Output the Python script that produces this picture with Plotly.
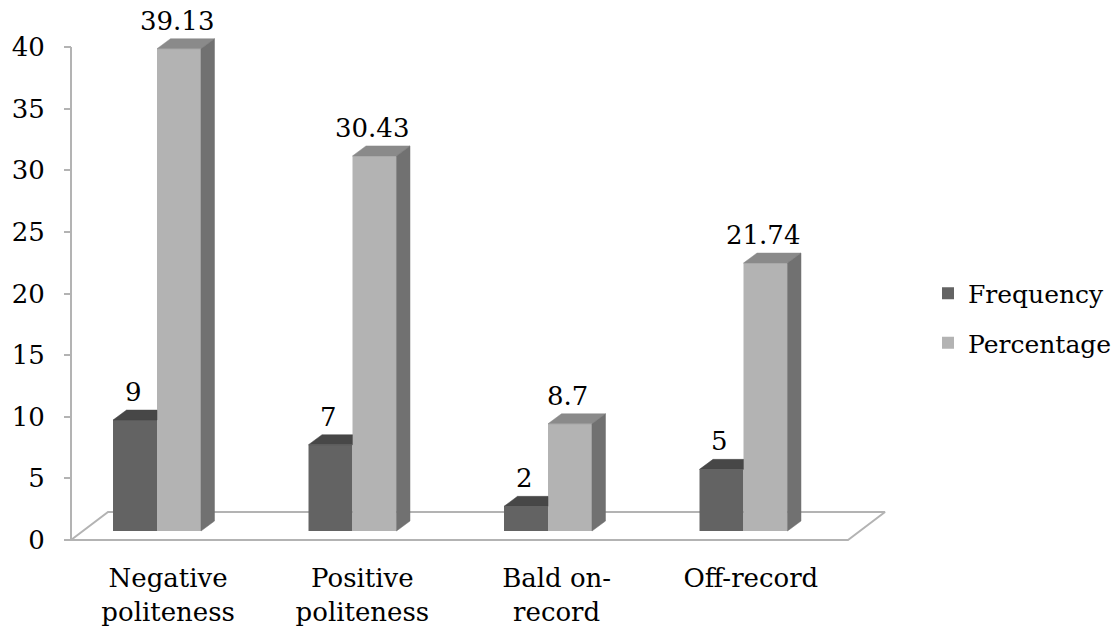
import plotly.graph_objects as go

# ---- data -------------------------------------------------------------
categories = ["Negative<br>politeness", "Positive<br>politeness",
              "Bald on-<br>record", "Off-record"]
frequency = [9, 7, 2, 5]
percentage = [39.13, 30.43, 8.7, 21.74]
y_ticks = [0, 5, 10, 15, 20, 25, 30, 35, 40]

# ---- layout geometry (pixels) -----------------------------------------
W, H = 1120, 635
AX_X, AX_Y = 71, 540                  # pixel position of the axes corner
L, R, T, B = 61, 895, 28, 546         # plot area edges
CAT_PX = 194.25                       # width of one category on the front plane
UNIT_PX = 12.325                      # pixels per y unit
BAR_CAT_PX = 195.5                    # category spacing where the bars stand
BAR_X0_PX = 157.0                     # centre of first bar pair
BAR_BASE_PX = 531.0                   # floor level of the bars
BAR_W = 0.225                         # bar width in category units
DEPTH_X_PX, DEPTH_Y_PX = 13.5, 10.0   # bar depth (oblique projection)
FLOOR_X_PX, FLOOR_Y_PX = 37.0, 28.0   # floor depth

FONT = "DejaVu Serif"
FS = 26
GRID = "#b3b3b3"

FREQ = dict(front="#636363", top="#474747")
PERC = dict(front="#b3b3b3", top="#8a8a8a", side="#717171")

n = len(categories)
# main (front) axes: category index on x, value on y
x_rng = [-0.5 - (AX_X - L) / CAT_PX, -0.5 + (R - AX_X) / CAT_PX]
y_rng = [-(B - AX_Y) / UNIT_PX, (AX_Y - T) / UNIT_PX]
# overlay axes the columns stand on
x2_r0 = -(BAR_X0_PX - L) / BAR_CAT_PX
x2_rng = [x2_r0, x2_r0 + (R - L) / BAR_CAT_PX]
y2_r0 = -(B - BAR_BASE_PX) / UNIT_PX
y2_rng = [y2_r0, y2_r0 + (B - T) / UNIT_PX]

ddx = DEPTH_X_PX / BAR_CAT_PX
ddy = DEPTH_Y_PX / UNIT_PX
fdx = FLOOR_X_PX / CAT_PX
fdy = FLOOR_Y_PX / UNIT_PX

fig = go.Figure()

# value axis line + floor outline, on the front axes
x0, x1 = -0.5, n - 0.5
fig.add_trace(go.Scatter(
    x=[x0, x0, x1, x1 + fdx, x0 + fdx, x0],
    y=[y_ticks[-1], 0, 0, fdy, fdy, 0],
    mode="lines", line=dict(color=GRID, width=2),
    hoverinfo="skip", showlegend=False))

# front faces of the columns
idx = list(range(n))
fig.add_trace(go.Bar(x=idx, y=frequency, name="Frequency", legendgroup="freq",
                     width=BAR_W, offset=-BAR_W,
                     marker=dict(color=FREQ["front"], line=dict(width=0)),
                     xaxis="x2", yaxis="y2"))
fig.add_trace(go.Bar(x=idx, y=percentage, name="Percentage", legendgroup="perc",
                     width=BAR_W, offset=0,
                     marker=dict(color=PERC["front"], line=dict(width=0)),
                     xaxis="x2", yaxis="y2"))


def poly(xs, ys, color):
    fig.add_trace(go.Scatter(x=xs + [xs[0]], y=ys + [ys[0]], mode="lines",
                             fill="toself", fillcolor=color,
                             line=dict(color=color, width=0.5),
                             hoverinfo="skip", showlegend=False,
                             xaxis="x2", yaxis="y2"))


# top and side faces
for i in idx:
    f, p = frequency[i], percentage[i]
    xl, xm, xr = i - BAR_W, i, i + BAR_W
    # frequency top (its right part is hidden behind the percentage column)
    poly([xl, xm, xm, xl + ddx], [f, f, f + ddy, f + ddy], FREQ["top"])
    # percentage top
    poly([xm, xr, xr + ddx, xm + ddx], [p, p, p + ddy, p + ddy], PERC["top"])
    # percentage side
    poly([xr, xr + ddx, xr + ddx, xr], [0, ddy, p + ddy, p], PERC["side"])

# value labels
annotations = []
for i in idx:
    for v, off in ((frequency[i], -BAR_W / 2), (percentage[i], BAR_W / 2)):
        annotations.append(dict(x=i + off, y=v, xref="x2", yref="y2",
                                text=f"{v:g}", showarrow=False,
                                yanchor="bottom", yshift=11, xshift=-2,
                                font=dict(family=FONT, size=FS, color="black")))

fig.update_layout(
    width=W, height=H, autosize=False,
    margin=dict(l=L, r=W - R, t=T, b=H - B, pad=0, autoexpand=False),
    paper_bgcolor="white", plot_bgcolor="white",
    font=dict(family=FONT, size=FS, color="black"),
    barmode="overlay",
    showlegend=True,
    legend=dict(x=(928 - L) / (R - L), y=(B - 318) / (B - T),
                xanchor="left", yanchor="middle", traceorder="grouped",
                font=dict(family=FONT, size=25, color="black"),
                tracegroupgap=14, bgcolor="rgba(0,0,0,0)"),
    xaxis=dict(visible=True, tickmode="array", tickvals=idx, ticktext=categories,
               range=x_rng, ticks="", showline=False, showgrid=False,
               zeroline=False, anchor="free", position=(B - AX_Y) / (B - T),
               ticklabelstandoff=20, automargin=False,
               tickfont=dict(family=FONT, size=FS, color="black")),
    xaxis3=dict(overlaying="x", tickmode="array",
                tickvals=[i - 0.5 for i in range(n + 1)], showticklabels=False,
                range=x_rng, ticks="outside", ticklen=8, tickwidth=1.5,
                tickcolor=GRID, showline=False, showgrid=False, zeroline=False,
                anchor="free", position=(B - AX_Y) / (B - T), automargin=False),
    yaxis=dict(visible=True, range=y_rng, tickvals=y_ticks, ticks="outside",
               ticklen=7, tickwidth=1.5, tickcolor=GRID, showline=False,
               showgrid=False, zeroline=False, ticklabelstandoff=14,
               anchor="free", position=(AX_X - L) / (R - L), automargin=False,
               tickfont=dict(family=FONT, size=FS, color="black")),
    xaxis2=dict(overlaying="x", range=x2_rng, visible=False),
    yaxis2=dict(overlaying="y", range=y2_rng, visible=False),
    annotations=annotations,
)

fig.write_html("out.html")
